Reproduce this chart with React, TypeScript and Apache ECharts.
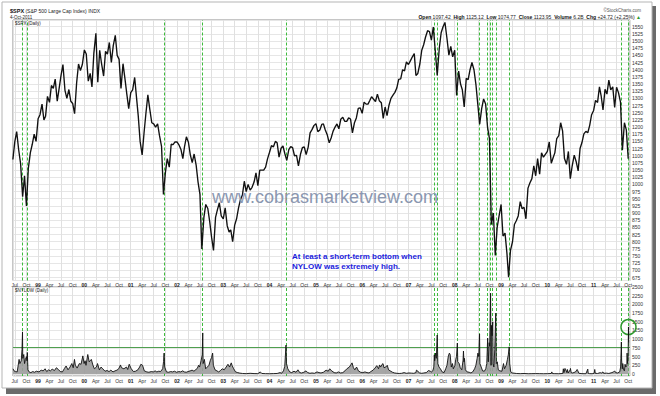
import React, { useEffect, useRef } from 'react';
import * as echarts from 'echarts';

// $SPX half-monthly readings (1st and 16th of each month), starting 16-Jun-1998
const spx1998 = [1087, 1148, 1184, 1120, 1072, 957, 1030, 925, 1056, 1111, 1140, 1175, 1150];
const spx1999 = [1229, 1243, 1280, 1225, 1238, 1307, 1286, 1345, 1335, 1367, 1290, 1335, 1380, 1418, 1328, 1300, 1331, 1290, 1282, 1247, 1354, 1420, 1397, 1418];
const spx2000 = [1469, 1455, 1360, 1387, 1340, 1458, 1527, 1356, 1468, 1420, 1378, 1464, 1454, 1495, 1425, 1484, 1520, 1450, 1436, 1335, 1421, 1370, 1315, 1264];
const spx2001 = [1320, 1330, 1373, 1301, 1240, 1150, 1103, 1180, 1249, 1312, 1260, 1215, 1211, 1200, 1211, 1170, 1133, 965, 1040, 1090, 1060, 1140, 1139, 1148];
const spx2002 = [1148, 1138, 1122, 1090, 1131, 1166, 1147, 1103, 1076, 1106, 1067, 1008, 965, 775, 885, 930, 916, 870, 815, 770, 885, 912, 936, 890];
const spx2003 = [880, 918, 856, 834, 841, 800, 858, 880, 917, 946, 963, 1011, 975, 1000, 980, 990, 1008, 1040, 996, 1050, 1050, 1050, 1060, 1089];
const spx2004 = [1112, 1135, 1131, 1150, 1145, 1095, 1126, 1134, 1107, 1084, 1121, 1132, 1128, 1100, 1101, 1065, 1105, 1128, 1131, 1104, 1130, 1180, 1191, 1205];
const spx2005 = [1212, 1184, 1190, 1209, 1211, 1190, 1172, 1145, 1162, 1185, 1200, 1211, 1194, 1227, 1234, 1220, 1220, 1232, 1228, 1180, 1215, 1232, 1265, 1267];
const spx2006 = [1248, 1287, 1280, 1280, 1292, 1306, 1297, 1289, 1315, 1292, 1285, 1230, 1270, 1240, 1277, 1300, 1311, 1321, 1336, 1366, 1368, 1400, 1396, 1427];
const spx2007 = [1418, 1431, 1445, 1456, 1380, 1387, 1420, 1468, 1487, 1514, 1536, 1533, 1503, 1549, 1465, 1380, 1474, 1529, 1550, 1565, 1509, 1451, 1481, 1445];
const spx2008 = [1468, 1310, 1395, 1350, 1330, 1270, 1370, 1365, 1400, 1425, 1400, 1350, 1280, 1210, 1265, 1298, 1280, 1200, 1160, 860, 900, 752, 850, 890];
const spx2009 = [930, 820, 830, 760, 676, 770, 800, 860, 873, 890, 940, 915, 920, 880, 987, 1005, 1020, 1065, 1030, 1090, 1036, 1110, 1095, 1105];
const spx2010 = [1115, 1148, 1074, 1094, 1110, 1160, 1170, 1215, 1187, 1090, 1070, 1115, 1020, 1065, 1102, 1080, 1047, 1125, 1146, 1176, 1185, 1180, 1206, 1243];
const spx2011 = [1258, 1293, 1286, 1340, 1310, 1260, 1332, 1315, 1364, 1330, 1340, 1268, 1339, 1320, 1287, 1119, 1215, 1190, 1090];

// $NYLOW readings [date, value]
const nylow1998: [string, number][] = [['1998-06-17', 150], ['1998-06-25', 90], ['1998-07-06', 70], ['1998-07-20', 60], ['1998-07-28', 250], ['1998-08-04', 420], ['1998-08-10', 300], ['1998-08-21', 380], ['1998-08-27', 700], ['1998-08-31', 1210], ['1998-09-02', 450], ['1998-09-10', 560], ['1998-09-16', 300], ['1998-09-23', 420], ['1998-10-01', 500], ['1998-10-05', 380], ['1998-10-08', 620], ['1998-10-13', 120], ['1998-10-22', 60], ['1998-11-05', 40], ['1998-11-20', 70], ['1998-12-04', 50], ['1998-12-18', 80]];
const nylow1999: [string, number][] = [['1999-01-08', 60], ['1999-01-25', 110], ['1999-02-10', 90], ['1999-02-25', 150], ['1999-03-10', 70], ['1999-03-25', 120], ['1999-04-08', 90], ['1999-04-22', 140], ['1999-05-10', 100], ['1999-05-25', 180], ['1999-06-10', 130], ['1999-06-25', 70], ['1999-07-12', 60], ['1999-07-28', 160], ['1999-08-10', 230], ['1999-08-25', 120], ['1999-09-10', 200], ['1999-09-24', 300], ['1999-10-05', 180], ['1999-10-15', 420], ['1999-10-22', 250], ['1999-11-05', 170], ['1999-11-22', 300], ['1999-12-06', 280], ['1999-12-20', 520], ['1999-12-30', 300]];
const nylow2000: [string, number][] = [['2000-01-07', 380], ['2000-01-14', 250], ['2000-01-28', 560], ['2000-02-08', 350], ['2000-02-25', 420], ['2000-03-08', 260], ['2000-03-20', 150], ['2000-04-05', 200], ['2000-04-14', 300], ['2000-04-28', 120], ['2000-05-12', 200], ['2000-05-25', 150], ['2000-06-12', 80], ['2000-06-28', 100], ['2000-07-14', 70], ['2000-07-28', 110], ['2000-08-14', 60], ['2000-08-30', 90], ['2000-09-14', 110], ['2000-09-28', 150], ['2000-10-12', 260], ['2000-10-20', 180], ['2000-11-08', 150], ['2000-11-28', 200], ['2000-12-08', 130], ['2000-12-20', 280]];
const nylow2001: [string, number][] = [['2001-01-05', 150], ['2001-01-22', 70], ['2001-02-08', 80], ['2001-02-26', 120], ['2001-03-12', 200], ['2001-03-22', 280], ['2001-04-04', 250], ['2001-04-18', 90], ['2001-05-08', 60], ['2001-05-24', 50], ['2001-06-12', 70], ['2001-06-28', 60], ['2001-07-12', 90], ['2001-07-26', 60], ['2001-08-10', 80], ['2001-08-24', 70], ['2001-09-10', 150], ['2001-09-17', 360], ['2001-09-21', 600], ['2001-09-26', 200], ['2001-10-10', 60], ['2001-10-26', 50], ['2001-11-12', 70], ['2001-11-28', 60], ['2001-12-12', 80], ['2001-12-28', 50]];
const nylow2002: [string, number][] = [['2002-01-15', 70], ['2002-01-31', 60], ['2002-02-14', 90], ['2002-02-28', 60], ['2002-03-15', 50], ['2002-03-29', 70], ['2002-04-15', 90], ['2002-04-30', 110], ['2002-05-15', 80], ['2002-05-30', 130], ['2002-06-10', 160], ['2002-06-20', 250], ['2002-06-28', 200], ['2002-07-10', 380], ['2002-07-19', 550], ['2002-07-23', 1180], ['2002-07-26', 300], ['2002-08-05', 420], ['2002-08-15', 150], ['2002-08-28', 200], ['2002-09-10', 250], ['2002-09-20', 380], ['2002-09-30', 470], ['2002-10-09', 600], ['2002-10-15', 250], ['2002-10-28', 120], ['2002-11-12', 90], ['2002-11-26', 60], ['2002-12-10', 100], ['2002-12-24', 150]];
const nylow2003: [string, number][] = [['2003-01-08', 120], ['2003-01-24', 200], ['2003-02-07', 280], ['2003-02-20', 200], ['2003-03-05', 320], ['2003-03-11', 250], ['2003-03-24', 150], ['2003-04-08', 60], ['2003-04-25', 40], ['2003-05-12', 25], ['2003-06-02', 15], ['2003-07-01', 10], ['2003-08-01', 20], ['2003-09-01', 12], ['2003-10-01', 10], ['2003-10-20', 60], ['2003-11-01', 15], ['2003-12-01', 10]];
const nylow2004: [string, number][] = [['2004-01-02', 8], ['2004-02-02', 12], ['2004-03-01', 15], ['2004-03-24', 40], ['2004-04-05', 20], ['2004-04-20', 90], ['2004-04-30', 220], ['2004-05-10', 830], ['2004-05-14', 300], ['2004-05-24', 150], ['2004-06-08', 60], ['2004-06-24', 40], ['2004-07-12', 80], ['2004-07-28', 50], ['2004-08-12', 120], ['2004-08-26', 40], ['2004-09-10', 30], ['2004-09-28', 50], ['2004-10-15', 90], ['2004-10-28', 40], ['2004-11-15', 20], ['2004-12-01', 30], ['2004-12-20', 20]];
const nylow2005: [string, number][] = [['2005-01-10', 60], ['2005-01-25', 40], ['2005-02-10', 30], ['2005-03-01', 50], ['2005-03-22', 110], ['2005-04-08', 80], ['2005-04-20', 150], ['2005-05-05', 90], ['2005-05-25', 40], ['2005-06-10', 30], ['2005-06-28', 60], ['2005-07-15', 30], ['2005-08-01', 40], ['2005-08-18', 90], ['2005-09-02', 150], ['2005-09-22', 200], ['2005-10-06', 280], ['2005-10-13', 320], ['2005-10-24', 180], ['2005-11-04', 120], ['2005-11-18', 200], ['2005-12-02', 90], ['2005-12-20', 50]];
const nylow2006: [string, number][] = [['2006-01-06', 40], ['2006-01-23', 60], ['2006-02-08', 40], ['2006-02-24', 30], ['2006-03-10', 70], ['2006-03-28', 110], ['2006-04-12', 170], ['2006-04-26', 240], ['2006-05-10', 150], ['2006-05-18', 260], ['2006-05-26', 200], ['2006-06-08', 280], ['2006-06-14', 300], ['2006-06-22', 180], ['2006-07-06', 200], ['2006-07-18', 250], ['2006-07-28', 120], ['2006-08-10', 90], ['2006-08-28', 50], ['2006-09-14', 30], ['2006-10-02', 20], ['2006-10-20', 15], ['2006-11-08', 20], ['2006-11-28', 40], ['2006-12-15', 20]];
const nylow2007: [string, number][] = [['2007-01-05', 30], ['2007-01-25', 25], ['2007-02-12', 20], ['2007-03-01', 40], ['2007-03-05', 110], ['2007-03-14', 90], ['2007-03-28', 30], ['2007-04-16', 20], ['2007-05-02', 30], ['2007-05-22', 40], ['2007-06-08', 100], ['2007-06-22', 80], ['2007-07-03', 60], ['2007-07-12', 90], ['2007-07-20', 200], ['2007-07-24', 550], ['2007-07-27', 380], ['2007-08-02', 600], ['2007-08-09', 450], ['2007-08-16', 1120], ['2007-08-21', 300], ['2007-08-30', 200], ['2007-09-10', 150], ['2007-09-24', 60], ['2007-10-09', 40], ['2007-10-22', 150], ['2007-11-01', 250], ['2007-11-07', 400], ['2007-11-12', 520], ['2007-11-20', 600], ['2007-11-26', 560], ['2007-12-05', 200], ['2007-12-14', 300], ['2007-12-21', 150]];
const nylow2008: [string, number][] = [['2008-01-03', 250], ['2008-01-09', 420], ['2008-01-15', 500], ['2008-01-22', 890], ['2008-01-25', 350], ['2008-02-05', 300], ['2008-02-14', 180], ['2008-02-26', 120], ['2008-03-07', 400], ['2008-03-10', 660], ['2008-03-14', 350], ['2008-03-18', 450], ['2008-03-25', 120], ['2008-04-08', 60], ['2008-04-24', 50], ['2008-05-08', 30], ['2008-05-22', 60], ['2008-06-06', 150], ['2008-06-16', 250], ['2008-06-26', 450], ['2008-07-02', 600], ['2008-07-09', 500], ['2008-07-15', 1150], ['2008-07-18', 300], ['2008-07-28', 200], ['2008-08-08', 90], ['2008-08-22', 80], ['2008-09-02', 150], ['2008-09-10', 300], ['2008-09-17', 1030], ['2008-09-22', 350], ['2008-09-29', 900], ['2008-10-03', 800], ['2008-10-07', 1600], ['2008-10-10', 2320], ['2008-10-14', 250], ['2008-10-16', 1400], ['2008-10-22', 1100], ['2008-10-27', 1500], ['2008-10-30', 300], ['2008-11-05', 200], ['2008-11-12', 700], ['2008-11-20', 1750], ['2008-11-24', 300], ['2008-12-02', 350], ['2008-12-10', 120], ['2008-12-22', 90]];
const nylow2009: [string, number][] = [['2009-01-08', 80], ['2009-01-20', 300], ['2009-01-28', 150], ['2009-02-10', 250], ['2009-02-20', 420], ['2009-02-27', 550], ['2009-03-06', 780], ['2009-03-10', 300], ['2009-03-18', 60], ['2009-04-01', 30], ['2009-05-01', 15], ['2009-06-01', 10], ['2009-07-01', 15], ['2009-08-03', 8], ['2009-09-01', 10], ['2009-10-01', 12], ['2009-11-02', 10], ['2009-12-01', 8]];
const nylow2010: [string, number][] = [['2010-01-04', 10], ['2010-02-01', 15], ['2010-02-05', 60], ['2010-02-10', 12], ['2010-03-01', 10], ['2010-04-01', 8], ['2010-05-03', 15], ['2010-05-07', 150], ['2010-05-12', 40], ['2010-05-20', 160], ['2010-05-26', 120], ['2010-06-04', 40], ['2010-06-08', 130], ['2010-06-15', 30], ['2010-06-30', 120], ['2010-07-02', 160], ['2010-07-08', 40], ['2010-07-20', 30], ['2010-08-11', 60], ['2010-08-24', 130], ['2010-08-27', 110], ['2010-09-07', 20], ['2010-10-01', 10], ['2010-11-01', 8], ['2010-11-16', 140], ['2010-11-19', 20], ['2010-12-01', 10], ['2010-12-20', 8]];
const nylow2011: [string, number][] = [['2011-01-05', 20], ['2011-01-10', 130], ['2011-01-14', 20], ['2011-02-01', 15], ['2011-02-23', 40], ['2011-03-01', 20], ['2011-03-16', 60], ['2011-03-21', 20], ['2011-04-12', 25], ['2011-05-01', 15], ['2011-05-25', 40], ['2011-06-08', 60], ['2011-06-16', 90], ['2011-06-24', 40], ['2011-07-08', 30], ['2011-07-26', 60], ['2011-08-02', 200], ['2011-08-04', 450], ['2011-08-08', 920], ['2011-08-10', 400], ['2011-08-15', 150], ['2011-08-19', 300], ['2011-08-25', 120], ['2011-09-01', 90], ['2011-09-06', 280], ['2011-09-12', 200], ['2011-09-20', 250], ['2011-09-22', 600], ['2011-09-26', 300], ['2011-09-30', 500], ['2011-10-03', 1350], ['2011-10-04', 900]];

// days when NYLOW was extremely high
const signalDates = ['1998-08-31', '1998-10-08', '2001-09-21', '2002-07-23', '2004-05-10', '2007-07-24', '2007-08-16', '2008-01-22', '2008-07-15', '2008-09-17', '2008-10-10', '2008-10-27', '2008-11-20', '2009-03-06', '2011-08-08', '2011-10-03'];
const nylowThreshold = 775;
const circledPoint: [string, number] = ['2011-10-03', 1350];

const monthNames = ['Jan', 'Feb', 'Mar', 'Apr', 'May', 'Jun', 'Jul', 'Aug', 'Sep', 'Oct', 'Nov', 'Dec'];
const quote = { open: '1097.42', high: '1125.12', low: '1074.77', close: '1123.95', volume: '6.2B', chg: '+24.72 (+2.25%)' };

const FONT = "'Liberation Sans', Arial, sans-serif";

function toTime(s: string): number {
  const [y, m, d] = s.split('-').map(Number);
  return new Date(y, m - 1, d).getTime();
}

export default function App() {
  const ref = useRef<HTMLDivElement>(null);
  useEffect(() => {
    if (!ref.current) return;
    const chart = echarts.init(ref.current, undefined, { renderer: 'svg' });

    const spxAll = [spx1998, spx1999, spx2000, spx2001, spx2002, spx2003, spx2004, spx2005, spx2006, spx2007, spx2008, spx2009, spx2010, spx2011].flat();
    const priceData = spxAll.map((v, k) => {
      const monthIdx = 5 + Math.floor((1 + k) / 2);
      const day = (1 + k) % 2 ? 16 : 1;
      return [new Date(1998, monthIdx, day).getTime(), v];
    });
    const nylowAll = [nylow1998, nylow1999, nylow2000, nylow2001, nylow2002, nylow2003, nylow2004, nylow2005, nylow2006, nylow2007, nylow2008, nylow2009, nylow2010, nylow2011].flat();
    const nylowData = nylowAll.map(([d, v]) => [toTime(d), v]);

    const tMin = toTime('1998-06-17');
    const tMax = toTime('2011-10-15');
    const DAY = 86400000;

    const xLabelFormatter = (val: number) => {
      const d = new Date(val);
      if (d.getDate() !== 1 || d.getHours() !== 0 || d.getMonth() % 3 !== 0) return '';
      if (d.getMonth() === 0) return '{b|' + String(d.getFullYear()).slice(2) + '}';
      return monthNames[d.getMonth()];
    };
    const makeX = (gi: number) => ({
      type: 'time',
      gridIndex: gi,
      min: tMin,
      max: tMax,
      splitNumber: 53,
      minInterval: 92 * DAY,
      maxInterval: 92 * DAY,
      axisLine: { show: false },
      axisTick: { show: false },
      axisLabel: {
        formatter: xLabelFormatter,
        fontSize: 5,
        margin: 2,
        color: '#333',
        fontFamily: FONT,
        rich: { b: { fontWeight: 'bold', fontSize: 5, fontFamily: FONT, color: '#222' } },
      },
      splitLine: { show: true, lineStyle: { color: '#e0e0e0', width: 1 } },
    });

    const vLines = signalDates.map((d) => ({ xAxis: toTime(d) }));
    const greenDash = { color: '#3dbb3d', width: 1, type: [3, 2] };

    const text = (x: number, y: number, t: string, extra: any = {}) => ({
      type: 'text',
      x,
      y,
      z: 50,
      style: { text: t, fontSize: 5, fontFamily: FONT, fill: '#222', verticalAlign: 'middle', ...extra },
    });

    chart.setOption({
      animation: false,
      backgroundColor: '#ffffff',
      textStyle: { fontFamily: FONT },
      grid: [
        { left: 13, right: 30, top: 20, height: 260.5, show: true, backgroundColor: '#fff', borderColor: '#8c8c8c', borderWidth: 1 },
        { left: 13, right: 30, top: 287, height: 89, show: true, backgroundColor: '#fff', borderColor: '#8c8c8c', borderWidth: 1 },
      ],
      xAxis: [makeX(0), makeX(1)],
      yAxis: [
        {
          type: 'value',
          gridIndex: 0,
          position: 'right',
          min: 664.8,
          max: 1573.4,
          splitNumber: 36,
          minInterval: 25,
          maxInterval: 25,
          axisLine: { show: false },
          axisTick: { show: false },
          axisLabel: {
            fontSize: 5,
            margin: 2,
            color: '#333',
            fontFamily: FONT,
            formatter: (v: number) => (v >= 675 && v <= 1550 && v % 25 === 0 ? String(v) : ''),
          },
          splitLine: { lineStyle: { color: '#e6e6e6', width: 1 } },
        },
        {
          type: 'value',
          gridIndex: 1,
          position: 'right',
          min: -57.5,
          max: 2500,
          splitNumber: 10,
          minInterval: 250,
          maxInterval: 250,
          axisLine: { show: false },
          axisTick: { show: false },
          axisLabel: {
            fontSize: 5,
            margin: 2,
            color: '#333',
            fontFamily: FONT,
            formatter: (v: number) => (v >= 0 && v % 250 === 0 ? String(v) : ''),
          },
          splitLine: { lineStyle: { color: '#e6e6e6', width: 1 } },
        },
      ],
      series: [
        {
          type: 'line',
          xAxisIndex: 0,
          yAxisIndex: 0,
          data: priceData,
          showSymbol: false,
          lineStyle: { color: '#111', width: 1.35 },
          z: 5,
          markLine: {
            silent: true,
            symbol: ['none', 'none'],
            label: { show: false },
            lineStyle: greenDash,
            data: vLines,
          },
        },
        {
          type: 'line',
          xAxisIndex: 1,
          yAxisIndex: 1,
          data: nylowData,
          showSymbol: false,
          lineStyle: { color: '#111', width: 0.9 },
          areaStyle: { color: '#9c9c9c', opacity: 0.9 },
          z: 5,
          markLine: {
            silent: true,
            symbol: ['none', 'none'],
            label: { show: false },
            data: [
              ...vLines.map((l) => ({ ...l, lineStyle: greenDash })),
              { yAxis: nylowThreshold, lineStyle: { color: '#4f9f4f', width: 1, type: 'solid' } },
            ],
          },
          markPoint: {
            silent: true,
            data: [
              {
                coord: [toTime(circledPoint[0]), circledPoint[1]],
                symbol: 'circle',
                symbolSize: 15,
                itemStyle: { color: 'rgba(0,0,0,0)', borderColor: '#2e9a2e', borderWidth: 1.5 },
                label: { show: false },
              },
            ],
          },
        },
      ],
      graphic: {
        elements: [
          { type: 'rect', z: -100, shape: { x: 6, y: 6, width: 650, height: 388 }, style: { fill: '#6b6b6b' } },
          { type: 'rect', z: -99, shape: { x: 2, y: 2, width: 650, height: 386 }, style: { fill: '#ffffff', stroke: '#b5b5b5', lineWidth: 1 } },
          text(10, 10.6, '{b|$SPX} (S&P 500 Large Cap Index) INDX', { rich: { b: { fontWeight: 'bold', fontSize: 5.5, fontFamily: FONT, fill: '#111' } } }),
          text(10, 17, '4-Oct-2011', { fontSize: 4.5 }),
          text(15, 23.8, '$SPX (Daily)', { fontSize: 4.5 }),
          text(15, 290.5, '$NYLOW (Daily)', { fontSize: 4.5 }),
          text(641, 10.5, '©StockCharts.com', { align: 'right', fill: '#555', fontSize: 4.5 }),
          text(
            641,
            16.8,
            `{b|Open} ${quote.open}  {b|High} ${quote.high}  {b|Low} ${quote.low}  {b|Close} ${quote.close}  {b|Volume} ${quote.volume}  {b|Chg} ${quote.chg} {g|▲}`,
            {
              align: 'right',
              rich: {
                b: { fontWeight: 'bold', fontSize: 5, fontFamily: FONT, fill: '#111' },
                g: { fontSize: 5, fill: '#2a9a2a' },
              },
            }
          ),
          text(325, 196.5, 'www.cobrasmarketview.com', { align: 'center', fontSize: 18, fill: '#8b97b0' }),
          text(292, 256, 'At least a short-term bottom when', { fontSize: 8, fontWeight: 'bold', fill: '#1c1cdc' }),
          text(292, 266, 'NYLOW was extremely high.', { fontSize: 8, fontWeight: 'bold', fill: '#1c1cdc' }),
        ],
      },
    });

    return () => {
      chart.dispose();
    };
  }, []);

  return <div ref={ref} style={{ position: 'absolute', left: 0, top: 0, width: 660, height: 396 }} />;
}
